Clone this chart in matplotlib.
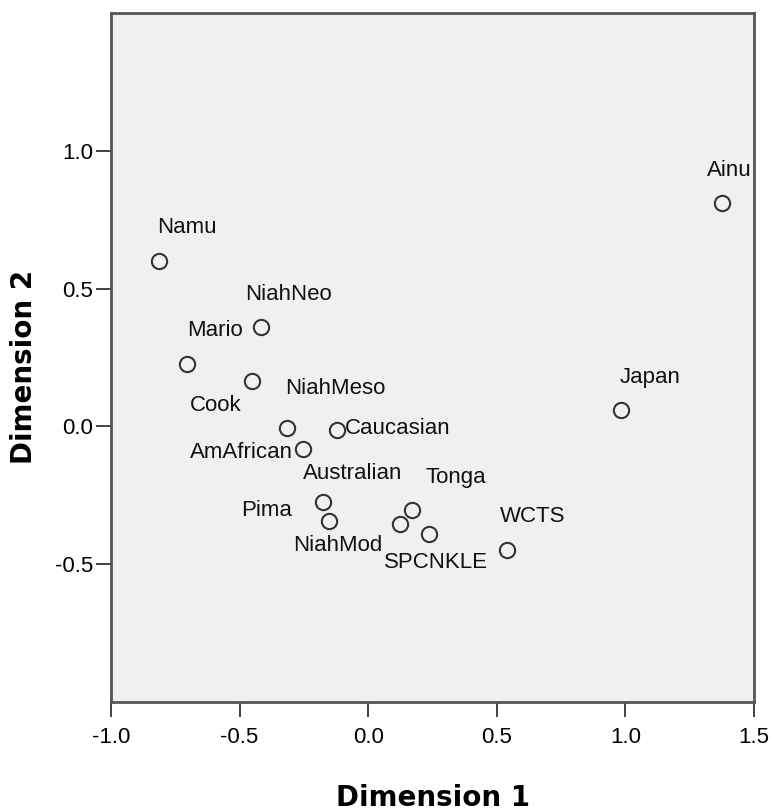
import matplotlib
matplotlib.use('Agg')
import matplotlib.pyplot as plt

# MDS coordinates
names = ['Ainu', 'Namu', 'NiahNeo', 'Mario', 'Cook', 'NiahMeso', 'Caucasian',
         'AmAfrican', 'Australian', 'Pima', 'NiahMod', 'Tonga', 'SPCNKLE',
         'WCTS', 'Japan']
dim1 = [1.374, -0.813, -0.418, -0.706, -0.452, -0.317, -0.122,
        -0.255, -0.175, -0.151, 0.124, 0.170, 0.235, 0.538, 0.982]
dim2 = [0.809, 0.599, 0.360, 0.225, 0.164, -0.005, -0.012,
        -0.082, -0.275, -0.345, -0.353, -0.302, -0.391, -0.449, 0.060]

xticks = [-1.0, -0.5, 0.0, 0.5, 1.0, 1.5]
yticks = [-0.5, 0.0, 0.5, 1.0]

# label placement (pixel offset from the point, alignment)
label_pos = {
    'Ainu': (8, 33, 'center'),
    'Namu': (28, 34, 'center'),
    'NiahNeo': (28, 33, 'center'),
    'Mario': (28, 34, 'center'),
    'Cook': (-36, -24, 'center'),
    'NiahMeso': (49, 39, 'center'),
    'Caucasian': (8, 1, 'left'),
    'AmAfrican': (-10, -4, 'right'),
    'Australian': (29, 29, 'center'),
    'Pima': (-37, 11, 'right'),
    'NiahMod': (-62, -22, 'center'),
    'Tonga': (44, 32, 'center'),
    'SPCNKLE': (7, -28, 'center'),
    'WCTS': (26, 34, 'center'),
    'Japan': (29, 32, 'center'),
}

plt.rcParams['font.family'] = ['Liberation Sans', 'DejaVu Sans']

fig = plt.figure(figsize=(7.72, 8.11), dpi=100)
ax = fig.add_axes([111 / 772, 1 - 702 / 811, 643 / 772, 689 / 811])
ax.set_facecolor('#f0f0f0')

ax.plot(dim1, dim2, 'o', markersize=11, markerfacecolor='none',
        markeredgecolor='#333333', markeredgewidth=1.5)

for n, x, y in zip(names, dim1, dim2):
    dx, dy, ha = label_pos[n]
    ax.annotate(n, (x, y), xytext=(dx, dy), textcoords='offset pixels',
                ha=ha, va='center', fontsize=16, color='#111111')

ax.set_xlim(-1.0, 1.5)
ax.set_ylim(-1.0, 1.5)
ax.set_xticks(xticks)
ax.set_yticks(yticks)
ax.set_xticklabels(['%.1f' % t for t in xticks])
ax.set_yticklabels(['%.1f' % t for t in yticks])
ax.tick_params(axis='x', length=11, width=1.3, pad=7, labelsize=16,
               color='#333333')
ax.tick_params(axis='y', length=11, width=1.3, pad=2, labelsize=16,
               color='#333333')

for s in ax.spines.values():
    s.set_color('#555555')
    s.set_linewidth(2)

fig.text(433 / 772, 1 - 798 / 811, 'Dimension 1', ha='center', va='center',
         fontsize=20, fontweight='bold', family='DejaVu Sans')
fig.text(24 / 772, 1 - 367 / 811, 'Dimension 2', ha='center', va='center',
         rotation=90, fontsize=20, fontweight='bold', family='DejaVu Sans')

fig.savefig('out.png', dpi=100)
